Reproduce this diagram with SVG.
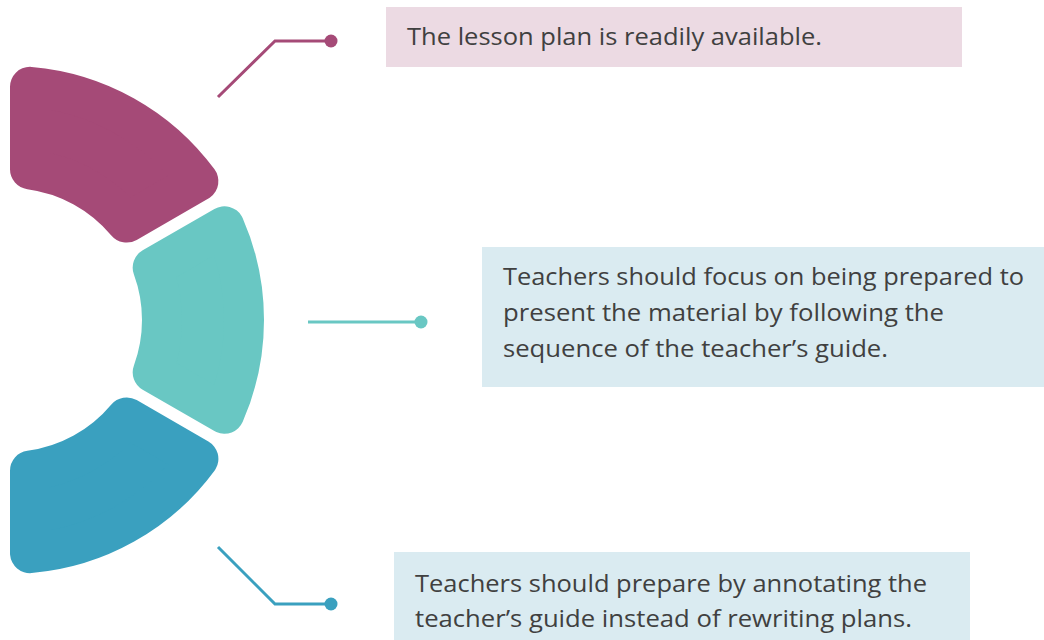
<svg xmlns="http://www.w3.org/2000/svg" width="1044" height="640" viewBox="0 0 1044 640">
  <style>
    .seg { stroke-width: 40; stroke-linejoin: round; }
    .txt { font-family: "Open Sans", "Liberation Sans", sans-serif; font-size: 23px; fill: #404040; }
    .ln { fill: none; stroke-width: 3; }
  </style>
  <rect width="1044" height="640" fill="#ffffff"/>
  <g id="segment-top">
    <path class="seg" fill="#A54A77" stroke="#A54A77" d="M 30,86.85 A 234 234 0 0 1 198.4,181.2 L 126.7,222.6 A 152 152 0 0 0 30,169.32 Z"/>
  </g>
  <g id="segment-middle">
    <path class="seg" fill="#69C7C3" stroke="#69C7C3" d="M 224.4,226.24 A 234 234 0 0 1 224.4,413.76 L 152.7,372.36 A 152 152 0 0 0 152.7,267.64 Z"/>
  </g>
  <g id="segment-bottom">
    <path class="seg" fill="#3AA0BF" stroke="#3AA0BF" d="M 198.4,458.8 A 234 234 0 0 1 30,553.15 L 30,470.68 A 152 152 0 0 0 126.7,417.4 Z"/>
  </g>
  <g id="connectors">
    <polyline class="ln" stroke="#A54A77" points="218,97 275,41 331,41"/>
    <circle cx="331" cy="41" r="6.5" fill="#A54A77"/>
    <line class="ln" stroke="#69C7C3" x1="308" y1="322" x2="421" y2="322"/>
    <circle cx="421" cy="322" r="6.5" fill="#69C7C3"/>
    <polyline class="ln" stroke="#3AA0BF" points="218,547 275,604 331,604"/>
    <circle cx="331" cy="604" r="6.5" fill="#3AA0BF"/>
  </g>
  <g id="box-top">
    <rect x="386" y="7" width="576" height="60" fill="#ECDAE3"/>
    <text class="txt" x="407" y="45" textLength="415" lengthAdjust="spacingAndGlyphs">The lesson plan is readily available.</text>
  </g>
  <g id="box-middle">
    <rect x="482" y="247" width="562" height="140" fill="#DAEBF1"/>
    <text class="txt" x="503" y="285" textLength="521" lengthAdjust="spacingAndGlyphs">Teachers should focus on being prepared to</text>
    <text class="txt" x="503" y="321" textLength="441" lengthAdjust="spacingAndGlyphs">present the material by following the</text>
    <text class="txt" x="503" y="357" textLength="385" lengthAdjust="spacingAndGlyphs">sequence of the teacher’s guide.</text>
  </g>
  <g id="box-bottom">
    <rect x="394" y="552" width="576" height="88" fill="#DAEBF1"/>
    <text class="txt" x="415" y="592" textLength="512" lengthAdjust="spacingAndGlyphs">Teachers should prepare by annotating the</text>
    <text class="txt" x="415" y="627" textLength="497" lengthAdjust="spacingAndGlyphs">teacher’s guide instead of rewriting plans.</text>
  </g>
</svg>
